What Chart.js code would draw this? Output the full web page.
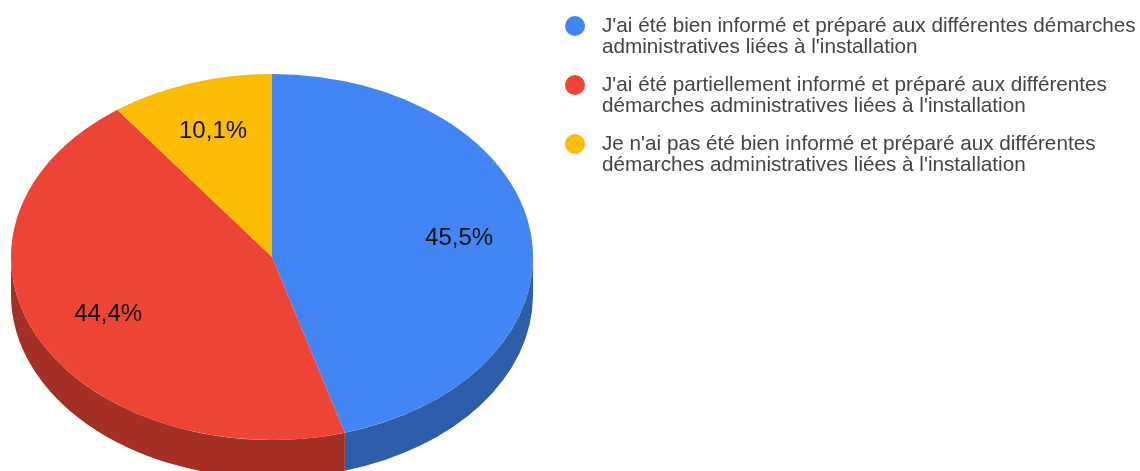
<!DOCTYPE html>
<html lang="fr">
<head>
<meta charset="utf-8">
<title>Démarches administratives</title>
<script src="https://cdn.jsdelivr.net/npm/chart.js@4"></script>
<style>
    html, body { margin: 0; padding: 0; background: #fff; overflow: hidden; }
    #wrap { position: relative; width: 1140px; height: 471px; overflow: hidden; }
    #legend { position: absolute; left: 0; top: 0; font-family: "Liberation Sans", Arial, sans-serif; font-size: 20.7px; line-height: 21px; color: #444; }
    .item { position: absolute; left: 602px; white-space: nowrap; }
    .dot { position: absolute; left: -37px; top: 2px; width: 20px; height: 20px; border-radius: 50%; }
</style>
</head>
<body>
<div id="wrap">
    <canvas id="pie" width="1140" height="471"></canvas>
    <div id="legend"></div>
</div>
<script>
const categories = [
    ["J'ai été bien informé et préparé aux différentes démarches", "administratives liées à l'installation"],
    ["J'ai été partiellement informé et préparé aux différentes", "démarches administratives liées à l'installation"],
    ["Je n'ai pas été bien informé et préparé aux différentes", "démarches administratives liées à l'installation"]
];
const values = [45.5, 44.4, 10.1];
const colors = ['#4285f4', '#ee4435', '#fbbc04'];
const sideColors = ['#2e5daa', '#a42f25', '#b08403'];

// look of the tilted pie
const RX = 261, RY = 183, DEPTH = 38;
const labelFractions = [0.724, 0.70, 0.724];

function formatValue(v) {
    return v.toFixed(1).replace('.', ',') + '%';
}

// squash the round pie into an ellipse and put a side wall under it
const tiltPlugin = {
    id: 'tilt',
    beforeDatasetsDraw(chart) {
        const ctx = chart.ctx;
        const arcs = chart.getDatasetMeta(0).data;
        const cx = arcs[0].x, cy = arcs[0].y;

        arcs.forEach((arc, i) => {
            // only the front half of the wall can be seen
            const start = Math.max(arc.startAngle, 0);
            const end = Math.min(arc.endAngle, Math.PI);
            if (end <= start) return;
            ctx.beginPath();
            ctx.ellipse(cx, cy, RX, RY, 0, start, end);
            ctx.ellipse(cx, cy + DEPTH, RX, RY, 0, end, start, true);
            ctx.closePath();
            ctx.fillStyle = sideColors[i];
            ctx.fill();
        });

        ctx.save();
        ctx.translate(cx, cy);
        ctx.scale(RX / arcs[0].outerRadius, RY / arcs[0].outerRadius);
        ctx.translate(-cx, -cy);
    },
    afterDatasetsDraw(chart) {
        const ctx = chart.ctx;
        ctx.restore();

        const arcs = chart.getDatasetMeta(0).data;
        ctx.save();
        ctx.font = '24px "Liberation Sans", Arial, sans-serif';
        ctx.fillStyle = '#111';
        ctx.textAlign = 'center';
        ctx.textBaseline = 'middle';
        arcs.forEach((arc, i) => {
            const mid = (arc.startAngle + arc.endAngle) / 2;
            const x = arc.x + Math.cos(mid) * RX * labelFractions[i];
            const y = arc.y + Math.sin(mid) * RY * labelFractions[i] + 0.5;
            ctx.fillText(formatValue(values[i]), x, y);
        });
        ctx.restore();
    }
};

const ctx = document.getElementById('pie').getContext('2d');
const pieChart = new Chart(ctx, {
    type: 'pie',
    data: {
        labels: categories.map(c => c.join(' ')),
        datasets: [{
            data: values,
            backgroundColor: colors,
            borderWidth: 0,
            clip: false
        }]
    },
    options: {
        responsive: false,
        animation: false,
        layout: { padding: { left: 0, right: 596, top: 43, bottom: 0 } },
        plugins: {
            legend: { display: false },
            tooltip: { enabled: false }
        }
    },
    plugins: [tiltPlugin]
});

// legend on the right, two lines per entry
const legend = document.getElementById('legend');
categories.forEach((lines, i) => {
    const item = document.createElement('div');
    item.className = 'item';
    item.style.top = (14 + i * 59) + 'px';
    const dot = document.createElement('span');
    dot.className = 'dot';
    dot.style.background = colors[i];
    item.appendChild(dot);
    lines.forEach(line => {
        const row = document.createElement('div');
        row.textContent = line;
        item.appendChild(row);
    });
    legend.appendChild(item);
});
</script>
</body>
</html>
